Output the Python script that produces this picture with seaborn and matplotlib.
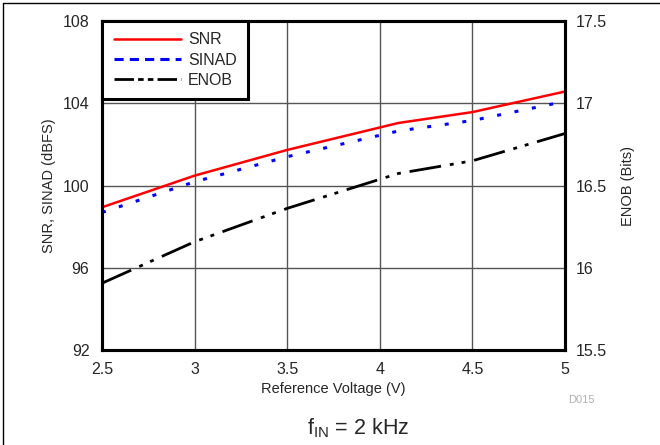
import matplotlib
matplotlib.use("Agg")
import matplotlib.pyplot as plt
from matplotlib.lines import Line2D
import seaborn as sns
import pandas as pd

vref = [2.5, 3.0, 3.5, 4.1, 4.5, 5.0]
snr = [98.94, 100.48, 101.73, 103.04, 103.57, 104.57]
sinad = [98.69, 100.18, 101.40, 102.65, 103.16, 104.09]
enob = [15.906, 16.158, 16.361, 16.573, 16.650, 16.816]
x_ticks = [2.5, 3, 3.5, 4, 4.5, 5]
x_ticklabels = ["2.5", "3", "3.5", "4", "4.5", "5"]
y_ticks = [92, 96, 100, 104, 108]
y2_ticks = [15.5, 16, 16.5, 17, 17.5]
y2_ticklabels = ["15.5", "16", "16.5", "17", "17.5"]

sns.set_style("white")
plt.rcParams["font.family"] = ["Liberation Sans", "DejaVu Sans"]
plt.rcParams["mathtext.fontset"] = "custom"
plt.rcParams["mathtext.rm"] = "Liberation Sans"

df = pd.DataFrame({"vref": vref, "snr": snr, "sinad": sinad, "enob": enob})

fig = plt.figure(figsize=(6.6, 4.45), dpi=100)
ax = fig.add_axes([102/660, 1-350/445, (565-102)/660, (350-21)/445])

sns.lineplot(data=df, x="vref", y="snr", ax=ax, color="#ff0000", lw=1.8, zorder=5)
sns.lineplot(data=df, x="vref", y="sinad", ax=ax, color="#0000ff", lw=2.2,
             linestyle=(0, (1.3, 4.5)), zorder=5)
ax.set_xlim(2.5, 5)
ax.set_ylim(92, 108)
ax.set_xticks(x_ticks)
ax.set_xticklabels(x_ticklabels)
ax.set_yticks(y_ticks)
ax.grid(True, color="#555555", lw=1.0)
ax.set_axisbelow(True)
ax.tick_params(axis="x", length=0, labelsize=11.5, pad=9)
ax.tick_params(axis="y", length=0, labelsize=11.5, pad=9)
ax.set_xlabel("Reference Voltage (V)", fontsize=10.5, labelpad=3)
ax.set_ylabel("SNR, SINAD (dBFS)", fontsize=10.5, labelpad=5)
for s in ax.spines.values():
    s.set_linewidth(2.2)
    s.set_color("black")

ax2 = ax.twinx()
sns.lineplot(data=df, x="vref", y="enob", ax=ax2, color="black", lw=2.0,
             linestyle=(0, (11.5, 3.2, 1.4, 2.9, 1.4, 3.2)), zorder=5)
ax2.set_ylim(15.5, 17.5)
ax2.set_yticks(y2_ticks)
ax2.set_yticklabels(y2_ticklabels)
ax2.tick_params(length=0, labelsize=11.5, pad=8)
ax2.set_ylabel("ENOB (Bits)", fontsize=10.5, labelpad=10)
for s in ax2.spines.values():
    s.set_linewidth(2.2)
    s.set_color("black")
ax2.grid(False)

handles = [
    Line2D([], [], color="#ff0000", lw=1.8),
    Line2D([], [], color="#0000ff", lw=2.2, linestyle=(0, (3, 2))),
    Line2D([], [], color="black", lw=2.0, linestyle=(0, (7, 1.5, 2, 1.5, 2, 1.5))),
]
leg = ax2.legend(handles, ["SNR", "SINAD", "ENOB"], loc="upper left",
                 bbox_to_anchor=(0, 1), borderaxespad=0, fontsize=11.5,
                 fancybox=False, framealpha=1, edgecolor="black",
                 handlelength=4.2, handletextpad=0.45, borderpad=0.72,
                 labelspacing=0.32)
leg.get_frame().set_linewidth(2.2)

fig.text(581/660, 1-400/445, "D015", fontsize=8, color="#b0b0b0", ha="center", va="center")
fig.text(358/660, 1-428/445, r"f$_{\mathrm{IN}}$ = 2 kHz", fontsize=15.5, ha="center", va="center")

fig.add_artist(Line2D([0.0045, 1], [1-3/445, 1-3/445], color="black", lw=1.0,
                      transform=fig.transFigure))
fig.add_artist(Line2D([0.0045, 0.0045], [0, 1-3/445], color="black", lw=1.0,
                      transform=fig.transFigure))

fig.savefig("out.png", dpi=100)
